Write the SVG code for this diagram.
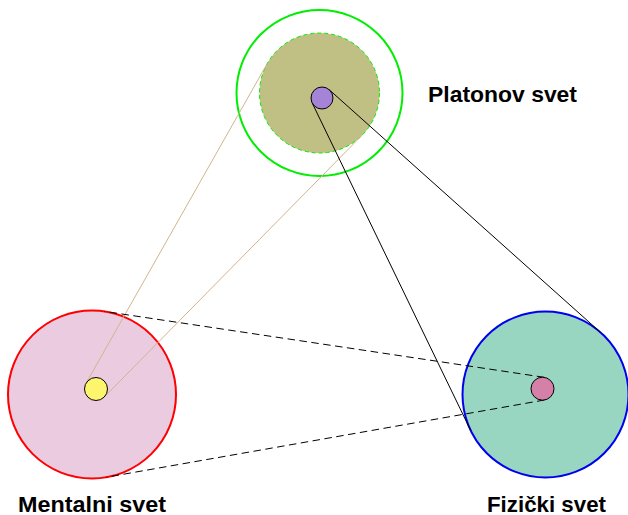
<svg xmlns="http://www.w3.org/2000/svg" width="628" height="515" viewBox="0 0 628 515">
<style>
.big{stroke-width:2}
.small{stroke:#000;stroke-width:1}
.tan{stroke:#d2b48c;stroke-width:1;fill:none}
.blk{stroke:#000;stroke-width:1;fill:none}
.dash{stroke:#000;stroke-width:1;fill:none;stroke-dasharray:7.5 4.5}
.lbl{font-family:"Liberation Sans",Arial,sans-serif;font-weight:bold;font-size:21.6px;fill:#000}
</style>
<rect width="628" height="515" fill="#fff"/>
<g id="platonov">
<circle class="big" cx="319.5" cy="93" r="83" fill="none" stroke="#00ee00"/>
<circle cx="319.5" cy="93" r="60" fill="#c0bf84" stroke="#00ee00" stroke-width="1" stroke-dasharray="4 3"/>
</g>
<g id="mentalni">
<circle class="big" cx="92" cy="394.5" r="84" fill="#eacbdf" stroke="#ff0000"/>
</g>
<g id="fizicki">
<circle class="big" cx="545.5" cy="394.5" r="83" fill="#98d6c2" stroke="#0000ee"/>
</g>
<g id="connectors">
<line class="tan" x1="86" y1="383.3" x2="267.3" y2="63.4"/>
<line class="tan" x1="104.2" y1="397.1" x2="362.2" y2="135.1"/>
<line class="blk" x1="312.1" y1="102.8" x2="470.8" y2="430.7"/>
<line class="blk" x1="329.3" y1="89.8" x2="600.8" y2="332.6"/>
<line class="dash" x1="544.2" y1="377.3" x2="104.5" y2="311.4"/>
<line class="dash" x1="544.5" y1="400" x2="106.6" y2="477.2"/>
</g>
<g id="platonov-dot"><circle class="small" cx="322" cy="98" r="11" fill="#a583d6"/></g>
<g id="mentalni-dot"><circle class="small" cx="96" cy="389" r="11.5" fill="#fdf56e"/></g>
<g id="fizicki-dot"><circle class="small" cx="542.5" cy="388.7" r="11.5" fill="#d580a8"/></g>
<g id="labels">
<text class="lbl" x="428" y="101.5" textLength="149" lengthAdjust="spacingAndGlyphs">Platonov svet</text>
<text class="lbl" x="18" y="511.5" textLength="148" lengthAdjust="spacingAndGlyphs">Mentalni svet</text>
<text class="lbl" x="487" y="511.5" textLength="119" lengthAdjust="spacingAndGlyphs">Fizički svet</text>
</g>
</svg>
